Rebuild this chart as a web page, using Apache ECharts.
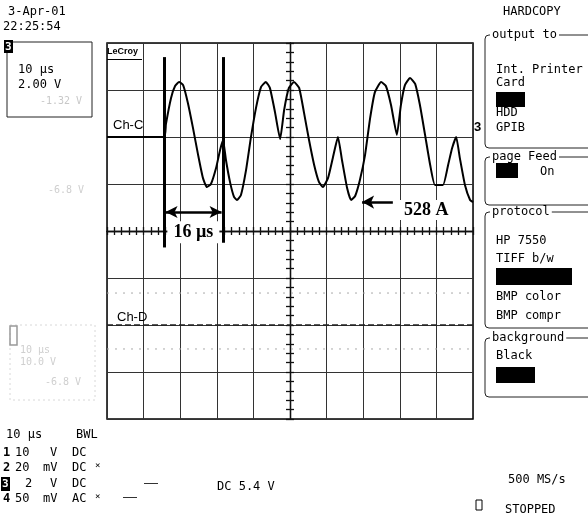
<!DOCTYPE html>
<html>
<head>
<meta charset="utf-8">
<script src="https://cdn.jsdelivr.net/npm/echarts@6/dist/echarts.min.js"></script>
<style>html,body{margin:0;padding:0;background:#fff;}#c{width:588px;height:518px;}</style>
</head>
<body>
<div id="c"></div>
<script>
// Ch-C trace: time in µs (10 µs/div), amplitude in V (2 V/div, 0 = Ch-C ground marker)
const timeUs = [0, 15.6, 16.1, 17.5, 18.6, 19.7, 20.8, 22.1, 23.5, 24.9, 26.2, 27.3, 28.4, 29.8, 30.9, 31.7, 32.5, 33.6, 34.7, 35.5, 36.6, 38.0, 39.3, 40.7, 42.1, 43.4, 44.5, 45.9, 47.3, 48.4, 49.7, 51.1, 52.5, 53.8, 55.2, 56.6, 57.9, 59.0, 60.4, 61.7, 63.1, 64.2, 65.6, 66.7, 67.8, 69.1, 70.5, 71.9, 73.2, 74.9, 76.2, 77.6, 79.2, 80.3, 81.4, 82.8, 84.2, 85.5, 86.9, 88.3, 89.6, 91.8, 93.2, 94.3, 95.4, 96.4, 97.8, 99.2, 100];
const chC = [0, 0, 0.55, 1.66, 2.17, 2.34, 2.21, 1.45, 0.38, -0.77, -1.74, -2.13, -2.00, -1.32, -0.55, -0.13, -0.98, -1.91, -2.55, -2.68, -2.47, -1.40, -0.04, 1.23, 2.13, 2.34, 2.09, 1.06, -0.09, 1.15, 2.09, 2.34, 2.09, 1.06, -0.13, -1.19, -1.91, -2.13, -1.74, -0.89, 0, -0.98, -2.17, -2.68, -2.51, -1.83, -0.77, 0.81, 1.91, 2.34, 2.17, 1.36, 0.09, 1.36, 2.21, 2.51, 2.26, 1.36, 0.09, -1.19, -2.04, -2.04, -1.19, -0.47, 0, -0.89, -2.04, -2.68, -2.77];
// Ch-D flat trace and faint ghost traces (same V scale)
const chDTime = [0, 100];
const chD = [-8, -8];
const ghostA = [-6.64, -6.64];
const ghostB = [-9.02, -9.02];
// Cursor annotation
const cursorTimes = [15.6, 31.7];
const deltaLabel = '16 µs';
const currentLabel = '528 A';
// axes
const xMin = 0, xMax = 100, xStep = 10;
const yMin = -12, yMax = 4, yStep = 2;

const MONO = '"DejaVu Sans Mono", monospace';
const SERIF = '"Liberation Serif", serif';
const SANS = '"Liberation Sans", Arial, sans-serif';

function txt(t, x, y, opt) {
  opt = opt || {};
  return {type: 'text', x: x, y: y, z: 50, style: {text: t, fill: opt.fill || '#000', font: (opt.weight || 'normal') + ' ' + (opt.size || 12) + 'px ' + (opt.family || MONO), verticalAlign: 'middle', align: opt.align || 'left', backgroundColor: opt.bg, padding: opt.bg ? [0, 2] : 0}};
}
function box(x, y, w, h, opt) {
  opt = opt || {};
  return {type: 'rect', z: opt.z || 40, shape: {x: x, y: y, width: w, height: h, r: opt.r || 0}, style: {fill: opt.fill || 'none', stroke: opt.stroke || null, lineWidth: opt.lw || 1, lineDash: opt.dash || null}};
}

const graphics = [
  txt('3-Apr-01', 8, 12), txt('22:25:54', 3, 27),
  box(7, 42, 85, 75, {stroke: '#222', lw: 1}),
  box(4, 40, 9, 13, {fill: '#000'}), txt('3', 5, 47, {fill: '#fff', weight: 'bold', size: 11}),
  txt('10 µs', 18, 70), txt('2.00 V', 18, 85), txt('-1.32 V', 40, 101, {fill: '#c8c8c8', size: 10}),
  txt('-6.8 V', 48, 190, {fill: '#cfcfcf', size: 10}),
  box(10, 325, 85, 75, {stroke: '#d8d8d8', lw: 1, dash: [2, 3]}),
  box(10, 326, 7, 19, {stroke: '#999', lw: 1.5}),
  txt('10 µs', 20, 350, {fill: '#cfcfcf', size: 10}), txt('10.0 V', 20, 362, {fill: '#cfcfcf', size: 10}), txt('-6.8 V', 45, 382, {fill: '#cfcfcf', size: 10}),
  // bottom-left status
  txt('10 µs', 6, 435), txt('BWL', 76, 435),
  txt('1', 3, 453, {weight: 'bold'}), txt('10', 15, 453), txt('V', 50, 453), txt('DC', 72, 453),
  txt('2', 3, 468, {weight: 'bold'}), txt('20', 15, 468), txt('mV', 43, 468), txt('DC', 72, 468), txt('×', 95, 466, {size: 9}),
  box(1, 477, 9, 14, {fill: '#000'}), txt('3', 2, 484, {fill: '#fff', weight: 'bold', size: 11}), txt('2', 25, 484), txt('V', 50, 484), txt('DC', 72, 484),
  txt('4', 3, 499, {weight: 'bold'}), txt('50', 15, 499), txt('mV', 43, 499), txt('AC', 72, 499), txt('×', 95, 497, {size: 9}),
  box(144, 483, 14, 1, {fill: '#333'}), box(123, 497, 14, 1, {fill: '#333'}),
  txt('DC 5.4 V', 217, 487),
  txt('500 MS/s', 508, 480), txt('STOPPED', 505, 510),
  box(476, 500, 6, 10, {stroke: '#000', lw: 1}),
  // right hardcopy menu
  txt('HARDCOPY', 503, 12),
  box(485, 35, 110, 113, {stroke: '#222', r: 4}), txt('output to', 490, 35, {bg: '#fff'}),
  txt('Int. Printer', 496, 70), txt('Card', 496, 83), box(496, 92, 29, 15, {fill: '#000'}), txt('HDD', 496, 113), txt('GPIB', 496, 128),
  box(485, 157, 110, 48, {stroke: '#222', r: 4}), txt('page Feed', 490, 157, {bg: '#fff'}),
  box(496, 163, 22, 15, {fill: '#000'}), txt('On', 540, 172),
  box(485, 212, 110, 116, {stroke: '#222', r: 4}), txt('protocol', 490, 212, {bg: '#fff'}),
  txt('HP 7550', 496, 241), txt('TIFF b/w', 496, 259), box(496, 268, 76, 17, {fill: '#000'}), txt('BMP color', 496, 297), txt('BMP compr', 496, 316),
  box(485, 338, 110, 59, {stroke: '#222', r: 4}), txt('background', 490, 338, {bg: '#fff'}),
  txt('Black', 496, 356), box(496, 367, 39, 16, {fill: '#000'}),
  // plot labels
  txt('LeCroy', 107, 52, {weight: 'bold', size: 9, family: SANS}), box(107, 59, 35, 1, {fill: '#000'}),
  txt('Ch-C', 113, 125, {size: 13, family: SANS}),
  txt('Ch-D', 117, 317, {size: 13, family: SANS}),
  txt('3', 474, 127, {weight: 'bold', size: 13, family: SANS})
];

const G = {left: 107, top: 43, width: 366, height: 376};
const chart = echarts.init(document.getElementById('c'), null, {renderer: 'canvas'});
const crossAxisX = (inside) => ({gridIndex: 1, type: 'value', min: -5, max: 5, interval: 1, position: 'bottom',
  axisLine: {show: true, onZero: true, lineStyle: {color: '#111', width: 1.3}},
  axisTick: {show: true, inside: inside, length: 4, lineStyle: {color: '#111', width: 1.3}},
  minorTick: {show: true, splitNumber: 5, length: 4, lineStyle: {color: '#111', width: 1.3}},
  axisLabel: {show: false}, splitLine: {show: false}});
const crossAxisY = (inside) => ({gridIndex: 1, type: 'value', min: -4, max: 4, interval: 1, position: 'left',
  axisLine: {show: true, onZero: true, lineStyle: {color: '#111', width: 1.3}},
  axisTick: {show: true, inside: inside, length: 4, lineStyle: {color: '#111', width: 1.3}},
  minorTick: {show: true, splitNumber: 5, length: 4, lineStyle: {color: '#111', width: 1.3}},
  axisLabel: {show: false}, splitLine: {show: false}});

chart.setOption({
  animation: false,
  backgroundColor: '#fff',
  grid: [Object.assign({show: true, borderColor: '#000', borderWidth: 1.5, backgroundColor: 'transparent'}, G), Object.assign({}, G)],
  xAxis: [
    {gridIndex: 0, type: 'value', min: xMin, max: xMax, interval: xStep, axisLine: {show: false}, axisTick: {show: false}, axisLabel: {show: false},
     splitLine: {show: true, lineStyle: {color: '#333', width: 1}}},
    crossAxisX(false), crossAxisX(true)
  ],
  yAxis: [
    {gridIndex: 0, type: 'value', min: yMin, max: yMax, interval: yStep, axisLine: {show: false}, axisTick: {show: false}, axisLabel: {show: false},
     splitLine: {show: true, lineStyle: {color: '#333', width: 1}}},
    crossAxisY(false), crossAxisY(true)
  ],
  graphic: graphics,
  series: [
    {name: 'ghost', type: 'line', xAxisIndex: 0, yAxisIndex: 0, data: chDTime.map((t, i) => [t, ghostA[i]]), showSymbol: false, silent: true,
     lineStyle: {color: '#aaa', width: 1, type: [2, 6]}},
    {name: 'ghost2', type: 'line', xAxisIndex: 0, yAxisIndex: 0, data: chDTime.map((t, i) => [t, ghostB[i]]), showSymbol: false, silent: true,
     lineStyle: {color: '#aaa', width: 1, type: [2, 6]}},
    {name: 'Ch-D', type: 'line', xAxisIndex: 0, yAxisIndex: 0, data: chDTime.map((t, i) => [t, chD[i]]), showSymbol: false, silent: true,
     lineStyle: {color: '#222', width: 1.5, type: [6, 3]}},
    {name: 'Ch-C', type: 'line', xAxisIndex: 0, yAxisIndex: 0, data: timeUs.map((t, i) => [t, chC[i]]), showSymbol: false, smooth: 0.15,
     lineStyle: {color: '#000', width: 2}, z: 5,
     markLine: {silent: true, symbol: ['none', 'none'], label: {show: false}, animation: false,
       data: [
         [{coord: [cursorTimes[0], 3.4], lineStyle: {color: '#000', width: 3, type: 'solid'}}, {coord: [cursorTimes[0], -4.7]}],
         [{coord: [cursorTimes[1], 3.4], lineStyle: {color: '#000', width: 3, type: 'solid'}}, {coord: [cursorTimes[1], -4.5]}],
         [{coord: [cursorTimes[0] + 0.4, -3.19], symbol: 'arrow', symbolSize: [9, 12], lineStyle: {color: '#000', width: 2.5, type: 'solid'}}, {coord: [cursorTimes[1] - 0.4, -3.19], symbol: 'arrow', symbolSize: [9, 12]}],
         [{coord: [69.7, -2.77], symbol: 'arrow', symbolSize: [10, 12], lineStyle: {color: '#000', width: 2.5, type: 'solid'}}, {coord: [78.1, -2.77], symbol: 'none'}]
       ]},
     markPoint: {silent: true, animation: false,
       data: [
         {coord: [23.6, -4.05], symbol: 'rect', symbolSize: [52, 22], itemStyle: {color: '#fff'},
          label: {show: true, formatter: deltaLabel, position: 'inside', color: '#000', fontSize: 18, fontWeight: 'bold', fontFamily: SERIF}},
         {coord: [87.2, -3.11], symbol: 'rect', symbolSize: [54, 20], itemStyle: {color: '#fff'},
          label: {show: true, formatter: currentLabel, position: 'inside', color: '#000', fontSize: 18, fontWeight: 'bold', fontFamily: SERIF}}
       ]}
    }
  ]
});
</script>
</body>
</html>
